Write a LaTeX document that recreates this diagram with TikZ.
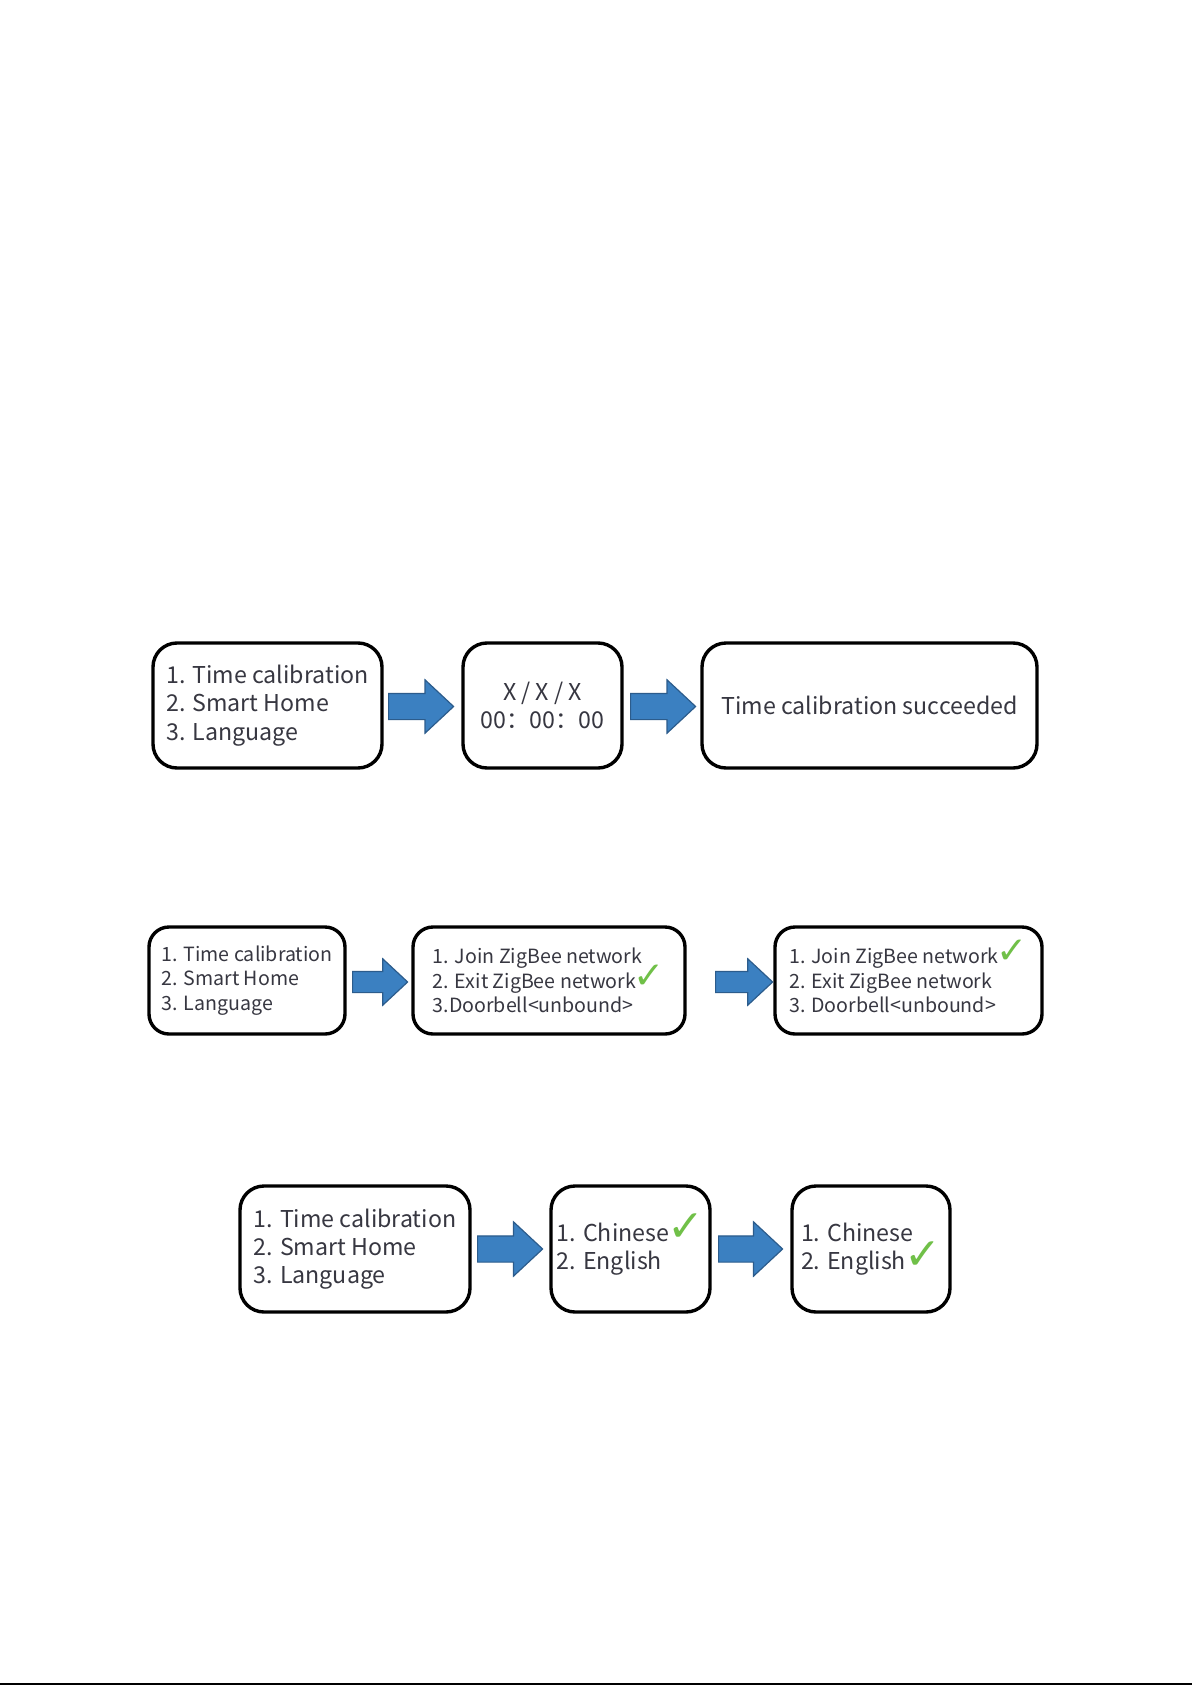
\documentclass[tikz,border=0pt]{standalone}
\usepackage{fontspec}
\usepackage{graphicx}
\setmainfont{Noto Sans CJK SC}
\newfontfamily\tickfont{DejaVu Sans}
\usetikzlibrary{shapes.arrows}
\definecolor{arrowblue}{RGB}{59,128,193}
\definecolor{arrowedge}{RGB}{44,92,140}
\definecolor{tick}{RGB}{112,192,72}
\definecolor{ink}{RGB}{55,55,65}
\newcommand{\ok}{\smash{\kern-1pt\scalebox{1.9}{\tickfont\textcolor{tick}{✓}}}}

\begin{document}
\begin{tikzpicture}[x=0.5pt, y=-0.5pt,
    screen/.style={draw, line width=1.7pt, rounded corners=12pt, align=left, text=ink, inner sep=0pt},
    big/.style={screen, font=\fontsize{11.6}{14.1}\selectfont},
    small/.style={screen, rounded corners=10pt, font=\fontsize{9.8}{12.4}\selectfont},
    go/.style={single arrow, draw=arrowedge, fill=arrowblue, line width=0.6pt,
        inner xsep=0pt, single arrow tip angle=86, anchor=tail}]
    \fill[white] (0,0) rectangle (1192,1685);
    \useasboundingbox (0,0) rectangle (1192,1685);

    \node[big, minimum width=114.5pt, minimum height=62.5pt] (t1) at (267.5,705.5)
        {1. Time calibration\\2. Smart Home\\3. Language};
    \node[big, align=center, minimum width=79.5pt, minimum height=62.5pt] (t2) at (542.5,705.5)
        {X / X / X\\00：00：00};
    \node[big, minimum width=167.5pt, minimum height=62.5pt] (t3) at (869.5,705.5)
        {Time calibration succeeded};
    \node[go, minimum height=32.5pt, minimum width=26pt, inner ysep=6.25pt, single arrow head extend=6.75pt] (ta1) at (388,706.5) {};
    \node[go, minimum height=32.5pt, minimum width=26pt, inner ysep=6.25pt, single arrow head extend=6.75pt] (ta2) at (630,706.5) {};

    \node[small, minimum width=98pt, minimum height=53.5pt] (z1) at (247,980.5)
        {1. Time calibration\\2. Smart Home\\3. Language};
    \node[small, minimum width=136pt, minimum height=53.5pt] (z2) at (549,980.5)
        {1. Join ZigBee network\\2. Exit ZigBee network\ok\\3.Doorbell<unbound>};
    \node[small, minimum width=133.5pt, minimum height=53.5pt] (z3) at (908.5,980.5)
        {1. Join ZigBee network\ok\\2. Exit ZigBee network\\3. Doorbell<unbound>};
    \node[go, minimum height=27.5pt, minimum width=22.5pt, inner ysep=5pt, single arrow head extend=6.25pt] (za1) at (352,982) {};
    \node[go, minimum height=28.5pt, minimum width=22.5pt, inner ysep=5pt, single arrow head extend=6.25pt] (za2) at (715,982) {};

    \node[big, minimum width=115pt, minimum height=63pt] (l1) at (355,1249)
        {1. Time calibration\\2. Smart Home\\3. Language};
    \node[big, minimum width=79.5pt, minimum height=63pt] (l2) at (630.5,1249)
        {1. Chinese\ok\\2. English};
    \node[big, minimum width=79pt, minimum height=63pt] (l3) at (871,1249)
        {1. Chinese\\2. English\ok};
    \node[go, minimum height=32.5pt, minimum width=26.5pt, inner ysep=6.25pt, single arrow head extend=7pt] (la1) at (477,1249) {};
    \node[go, minimum height=32pt, minimum width=26.5pt, inner ysep=6.25pt, single arrow head extend=7pt] (la2) at (718,1249) {};

    \draw[line width=0.6pt] (0,1684) -- (1192,1684);
\end{tikzpicture}
\end{document}
